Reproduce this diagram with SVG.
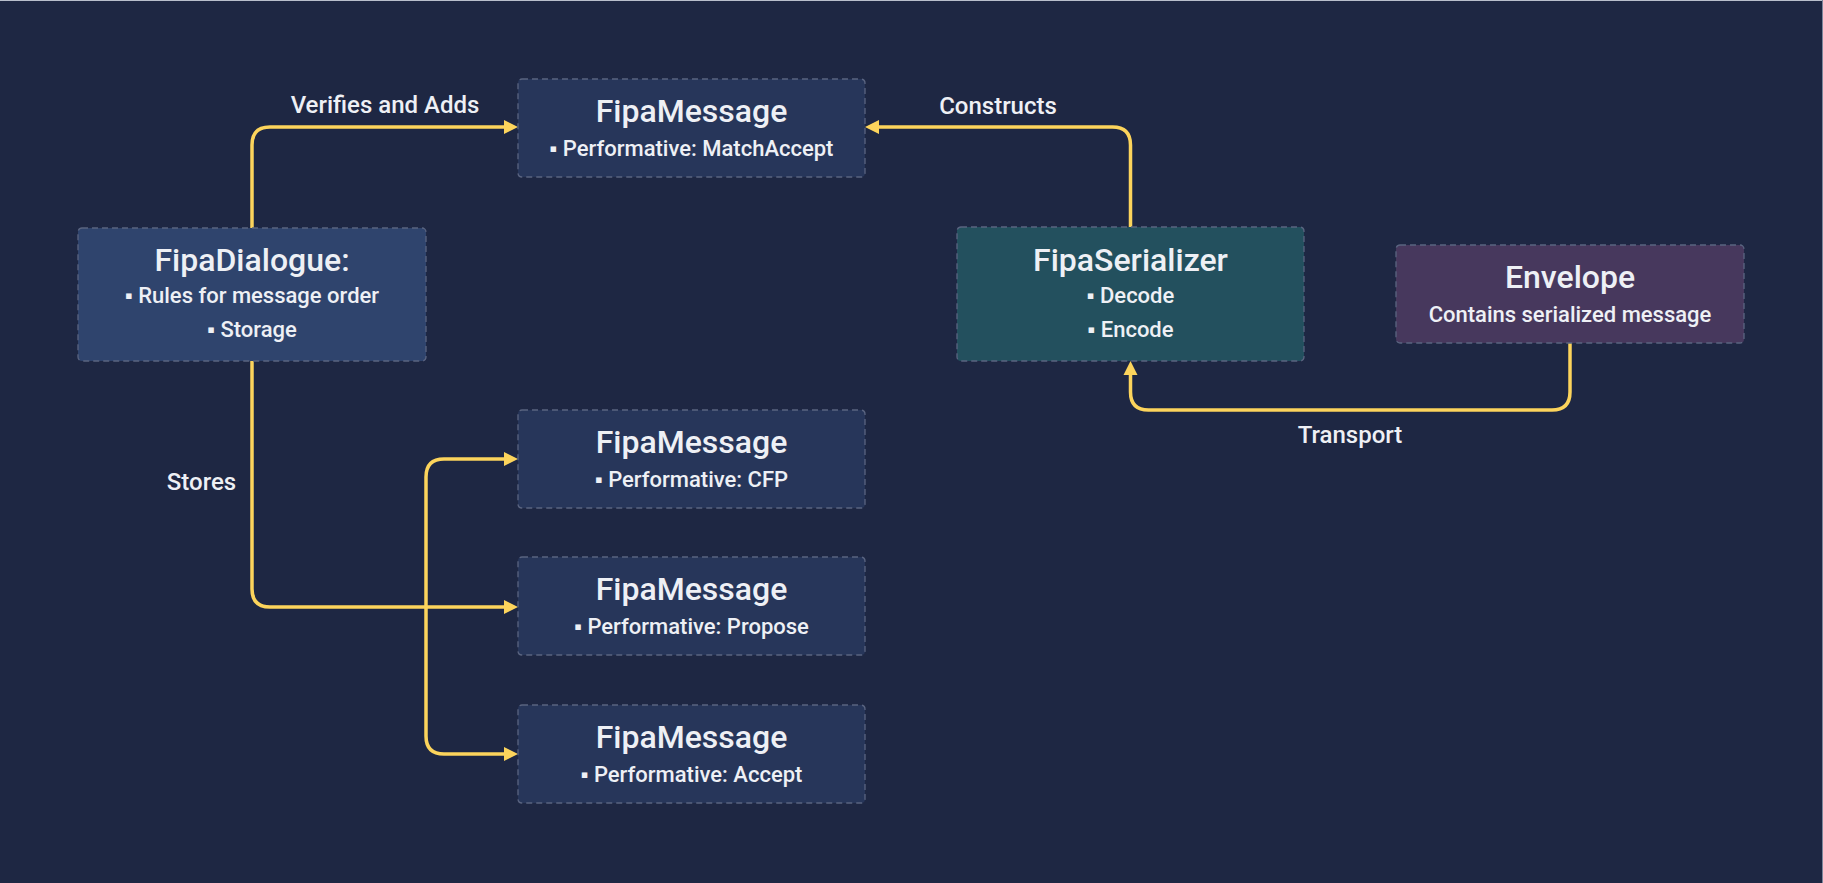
<svg xmlns="http://www.w3.org/2000/svg" width="1823" height="883" viewBox="0 0 1823 883">
  <defs>
    <style>
      .box { stroke: #5a6480; stroke-width: 1.3; stroke-dasharray: 6 4; }
      .msg { fill: #27365a; }
      .dlg { fill: #2f446d; }
      .ser { fill: #23505e; }
      .env { fill: #47385d; }
      .title { font-family: Roboto, "Liberation Sans", sans-serif; font-weight: 500; font-size: 32px; fill: #eef0f5; text-anchor: middle; }
      .sub { font-family: Roboto, "Liberation Sans", sans-serif; font-weight: 500; font-size: 22px; fill: #eef0f5; text-anchor: middle; }
      .lbl { font-family: Roboto, "Liberation Sans", sans-serif; font-weight: 500; font-size: 24px; fill: #eef0f5; text-anchor: middle; }
      .conn { fill: none; stroke: #fcd45c; stroke-width: 3.5; stroke-linejoin: round; }
    </style>
    <marker id="arrow" markerUnits="userSpaceOnUse" markerWidth="15" markerHeight="16" refX="0" refY="7" orient="auto" viewBox="0 0 15 14">
      <path d="M0,0 L14,7 L0,14 z" fill="#fcd45c"/>
    </marker>
  </defs>
  <rect x="0" y="0" width="1823" height="883" fill="#1e2743"/>
  <line x1="0" y1="0.5" x2="1823" y2="0.5" stroke="#b9bfcc" stroke-width="1"/>
  <line x1="1822.5" y1="0" x2="1822.5" y2="883" stroke="#7d869c" stroke-width="1"/>

  <g id="connectors">
    <path class="conn" d="M252,228 V145 Q252,127 270,127 H504" marker-end="url(#arrow)"/>
    <path class="conn" d="M1130.5,227 V145 Q1130.5,127 1112.5,127 H879" marker-end="url(#arrow)"/>
    <path class="conn" d="M252,361 V589 Q252,607 270,607 H504" marker-end="url(#arrow)"/>
    <path class="conn" d="M426,606 V477 Q426,459 444,459 H504" marker-end="url(#arrow)"/>
    <path class="conn" d="M426,606 V736 Q426,754 444,754 H504" marker-end="url(#arrow)"/>
    <path class="conn" d="M1570,343 V392 Q1570,410 1552,410 H1148.5 Q1130.5,410 1130.5,392 V375" marker-end="url(#arrow)"/>
    <text class="lbl" x="385" y="113">Verifies and Adds</text>
    <text class="lbl" x="998" y="114">Constructs</text>
    <text class="lbl" x="201.5" y="490">Stores</text>
    <text class="lbl" x="1350" y="443">Transport</text>
  </g>

  <g id="msg-matchaccept">
    <rect class="box msg" x="518" y="79" width="347" height="98" rx="4"/>
    <text class="title" x="691.5" y="122">FipaMessage</text>
    <text class="sub" x="691.5" y="156">▪ Performative: MatchAccept</text>
  </g>

  <g id="fipa-dialogue">
    <rect class="box dlg" x="78" y="228" width="348" height="133" rx="4"/>
    <text class="title" x="252" y="271">FipaDialogue:</text>
    <text class="sub" x="252" y="303">▪ Rules for message order</text>
    <text class="sub" x="252" y="337">▪ Storage</text>
  </g>

  <g id="fipa-serializer">
    <rect class="box ser" x="957" y="227" width="347" height="134" rx="4"/>
    <text class="title" x="1130.5" y="271">FipaSerializer</text>
    <text class="sub" x="1130.5" y="303">▪ Decode</text>
    <text class="sub" x="1130.5" y="337">▪ Encode</text>
  </g>

  <g id="envelope">
    <rect class="box env" x="1396" y="245" width="348" height="98" rx="4"/>
    <text class="title" x="1570" y="288">Envelope</text>
    <text class="sub" x="1570" y="322">Contains serialized message</text>
  </g>

  <g id="msg-cfp">
    <rect class="box msg" x="518" y="410" width="347" height="98" rx="4"/>
    <text class="title" x="691.5" y="453">FipaMessage</text>
    <text class="sub" x="691.5" y="487">▪ Performative: CFP</text>
  </g>

  <g id="msg-propose">
    <rect class="box msg" x="518" y="557" width="347" height="98" rx="4"/>
    <text class="title" x="691.5" y="600">FipaMessage</text>
    <text class="sub" x="691.5" y="634">▪ Performative: Propose</text>
  </g>

  <g id="msg-accept">
    <rect class="box msg" x="518" y="705" width="347" height="98" rx="4"/>
    <text class="title" x="691.5" y="748">FipaMessage</text>
    <text class="sub" x="691.5" y="782">▪ Performative: Accept</text>
  </g>
</svg>
